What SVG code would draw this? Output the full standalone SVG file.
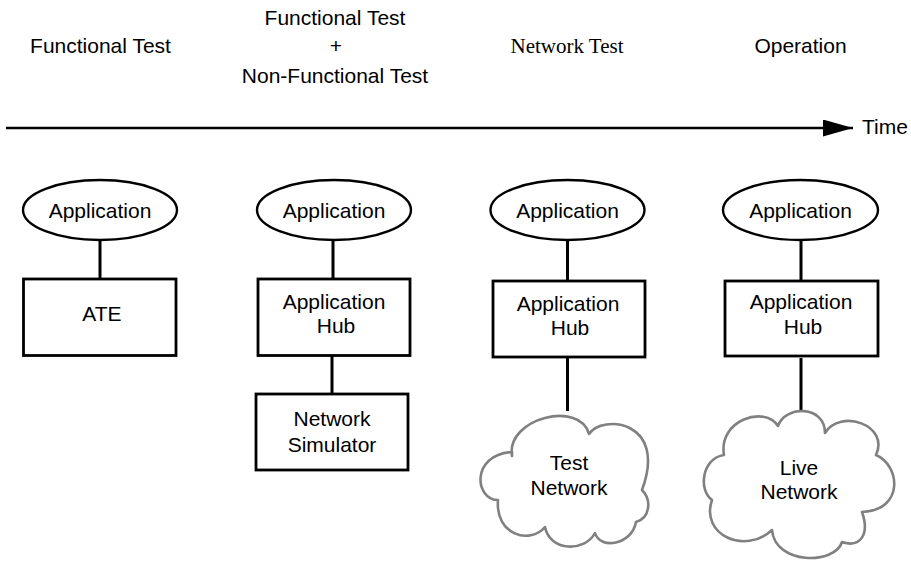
<svg xmlns="http://www.w3.org/2000/svg" width="911" height="562" viewBox="0 0 911 562">
  <style>
    .lbl { font-family: "Liberation Sans", Arial, sans-serif; font-size: 21px; fill: #000; text-anchor: middle; }
    .serif { font-family: "Liberation Serif", "Times New Roman", serif; font-size: 21px; fill: #000; text-anchor: middle; }
    .app { fill: #fff; stroke: #000; stroke-width: 2.4; }
    .box { fill: #fff; stroke: #000; stroke-width: 2.8; }
    .cloud { fill: #fff; stroke: #808080; stroke-width: 2.6; stroke-linejoin: round; }
    .link { stroke: #000; stroke-width: 3; fill: none; }
  </style>
  <defs>
    <marker id="arrowhead" markerUnits="userSpaceOnUse" markerWidth="32" markerHeight="20" refX="30" refY="8.5" orient="auto">
      <polygon points="0,0 30,8.5 0,17" fill="#000"/>
    </marker>
  </defs>
  <rect width="911" height="562" fill="#fff"/>

  <!-- phase headings -->
  <g id="headings">
    <text class="lbl" x="100.5" y="53">Functional Test</text>
    <text class="lbl" x="335" y="25">Functional Test</text>
    <text class="lbl" x="336" y="53">+</text>
    <text class="lbl" x="335" y="83">Non-Functional Test</text>
    <text class="serif" x="567" y="53">Network Test</text>
    <text class="lbl" x="800.5" y="53">Operation</text>
  </g>

  <!-- time axis -->
  <g id="timeline">
    <line x1="6" y1="128" x2="853" y2="128" stroke="#000" stroke-width="2.6" marker-end="url(#arrowhead)"/>
    <text class="lbl" x="862" y="134" style="text-anchor:start">Time</text>
  </g>

  <!-- connectors -->
  <g id="connectors">
    <line class="link" x1="100" y1="240" x2="100" y2="279"/>
    <line class="link" x1="333" y1="240" x2="333" y2="279"/>
    <line class="link" x1="332" y1="356" x2="332" y2="394"/>
    <line class="link" x1="567.5" y1="240" x2="567.5" y2="281"/>
    <line class="link" x1="567.5" y1="357" x2="567.5" y2="411"/>
    <line class="link" x1="801" y1="240" x2="801" y2="281"/>
    <line class="link" x1="801" y1="358" x2="801" y2="417"/>
  </g>

  <!-- column 1 -->
  <g id="app1">
    <ellipse class="app" cx="100" cy="210" rx="77" ry="30"/>
    <text class="lbl" x="100" y="218">Application</text>
  </g>
  <g id="ate">
    <rect class="box" x="23.5" y="279" width="152.5" height="76.5"/>
    <text class="lbl" x="102" y="321">ATE</text>
  </g>

  <!-- column 2 -->
  <g id="app2">
    <ellipse class="app" cx="334" cy="210" rx="77" ry="30"/>
    <text class="lbl" x="334" y="218">Application</text>
  </g>
  <g id="hub2">
    <rect class="box" x="258" y="279" width="152" height="76.5"/>
    <text class="lbl" x="334" y="309">Application</text>
    <text class="lbl" x="336" y="333">Hub</text>
  </g>
  <g id="simulator">
    <rect class="box" x="256" y="394" width="152" height="76"/>
    <text class="lbl" x="332" y="426">Network</text>
    <text class="lbl" x="332" y="452">Simulator</text>
  </g>

  <!-- column 3 -->
  <g id="app3">
    <ellipse class="app" cx="567.5" cy="210" rx="77" ry="30"/>
    <text class="lbl" x="567.5" y="218">Application</text>
  </g>
  <g id="hub3">
    <rect class="box" x="493" y="281" width="152" height="76"/>
    <text class="lbl" x="568" y="311">Application</text>
    <text class="lbl" x="570" y="335">Hub</text>
  </g>
  <g id="test-network">
    <path class="cloud" d="M 512,456 C 506,418 580,400 589,434 C 602,414 668,420 642,490 C 652,500 650,518 636,522 C 632,545 600,550 595,533 C 585,552 550,552 545,527 C 530,545 495,535 498,500 C 475,500 470,455 512,452 Z"/>
    <text class="lbl" x="569" y="470">Test</text>
    <text class="lbl" x="569" y="495">Network</text>
  </g>

  <!-- column 4 -->
  <g id="app4">
    <ellipse class="app" cx="800.5" cy="210" rx="77.5" ry="30"/>
    <text class="lbl" x="800.5" y="218">Application</text>
  </g>
  <g id="hub4">
    <rect class="box" x="725" y="281" width="153" height="75"/>
    <text class="lbl" x="801" y="309">Application</text>
    <text class="lbl" x="803" y="334">Hub</text>
  </g>
  <g id="live-network">
    <path class="cloud" d="M 724,455 C 718,420 765,405 778,426 C 785,405 825,405 825,433 C 840,408 890,425 876,455 C 900,465 905,510 862,512 C 870,535 860,548 842,542 C 835,565 775,565 772,530 C 745,555 700,535 712,500 C 698,490 702,458 724,455 Z"/>
    <text class="lbl" x="799" y="475">Live</text>
    <text class="lbl" x="799" y="499">Network</text>
  </g>
</svg>
